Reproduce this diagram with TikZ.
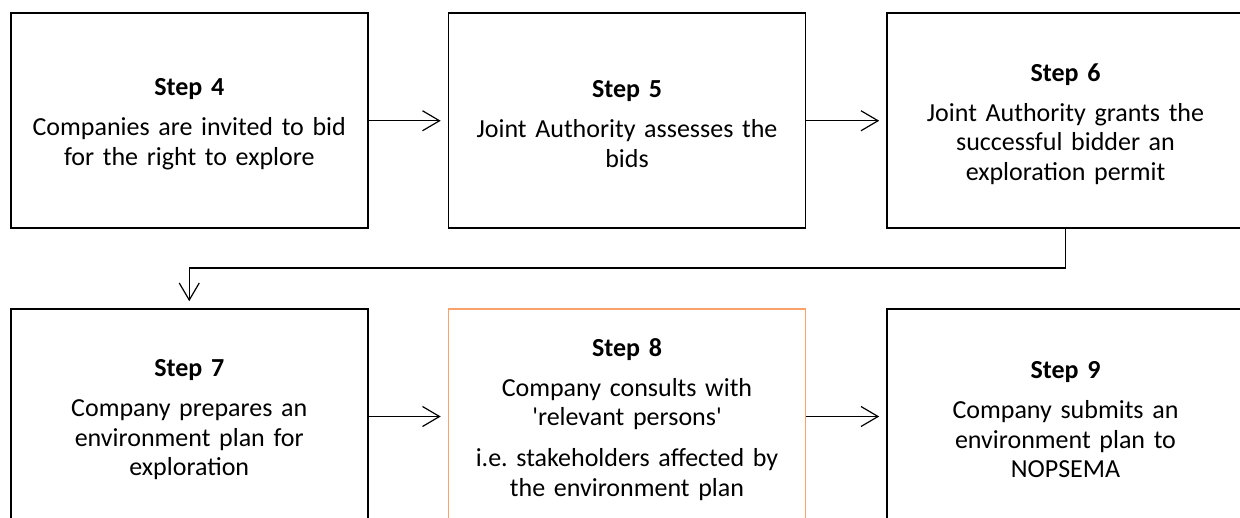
\documentclass[tikz,border=0pt]{standalone}
\usepackage{fontspec}
\setmainfont{Carlito}
\usetikzlibrary{arrows.meta}
\definecolor{stepor}{RGB}{250,162,105}
\tikzset{
  stepbox/.style={draw=black, line width=1.6pt, minimum width=357pt, minimum height=215pt,
    inner sep=0pt, text width=340pt, align=center, font=\fontsize{26}{29.5}\selectfont\frenchspacing},
  arr/.style={line width=1.2pt, -{Straight Barb[length=17pt,width=20pt,line width=1.2pt]}, shorten >=7pt},
}
\newcommand{\sttl}[1]{\rule{0pt}{24pt}\textbf{#1}\\[10.5pt]}
\begin{document}
\begin{tikzpicture}[x=1pt,y=-1pt]
\useasboundingbox (0,0) rectangle (1240,517);
\clip (0,0) rectangle (1240,517);
\fill[white] (0,0) rectangle (1240,517);
\node[stepbox] (b4) at (189.25,120.75) {\sttl{Step 4}Companies are invited to bid\\for the right to explore};
\node[stepbox] (b5) at (627,120.75) {\sttl{Step 5}Joint Authority assesses the\\bids};
\node[stepbox] (b6) at (1065.5,120.75) {\sttl{Step 6}Joint Authority grants the\\successful bidder an\\exploration permit};
\node[stepbox] (b7) at (189.25,416.5) {\sttl{Step 7}Company prepares an\\environment plan for\\exploration};
\node[stepbox, draw=stepor] (b8) at (627,416.5) {\sttl{Step 8}Company consults with\\\textquotesingle relevant persons\textquotesingle\\[11.5pt]i.e. stakeholders affected by\\the environment plan};
\node[stepbox] (b9) at (1065.5,416.5) {\sttl{Step 9}Company submits an\\environment plan to\\NOPSEMA};
\draw[arr] (b4.east) -- (b5.west);
\draw[arr] (b5.east) -- (b6.west);
\draw[arr] (b7.east) -- (b8.west);
\draw[arr] (b8.east) -- (b9.west);
\draw[arr] (b6.south) -- ++(0,39) -| (b7.north);
\end{tikzpicture}
\end{document}
